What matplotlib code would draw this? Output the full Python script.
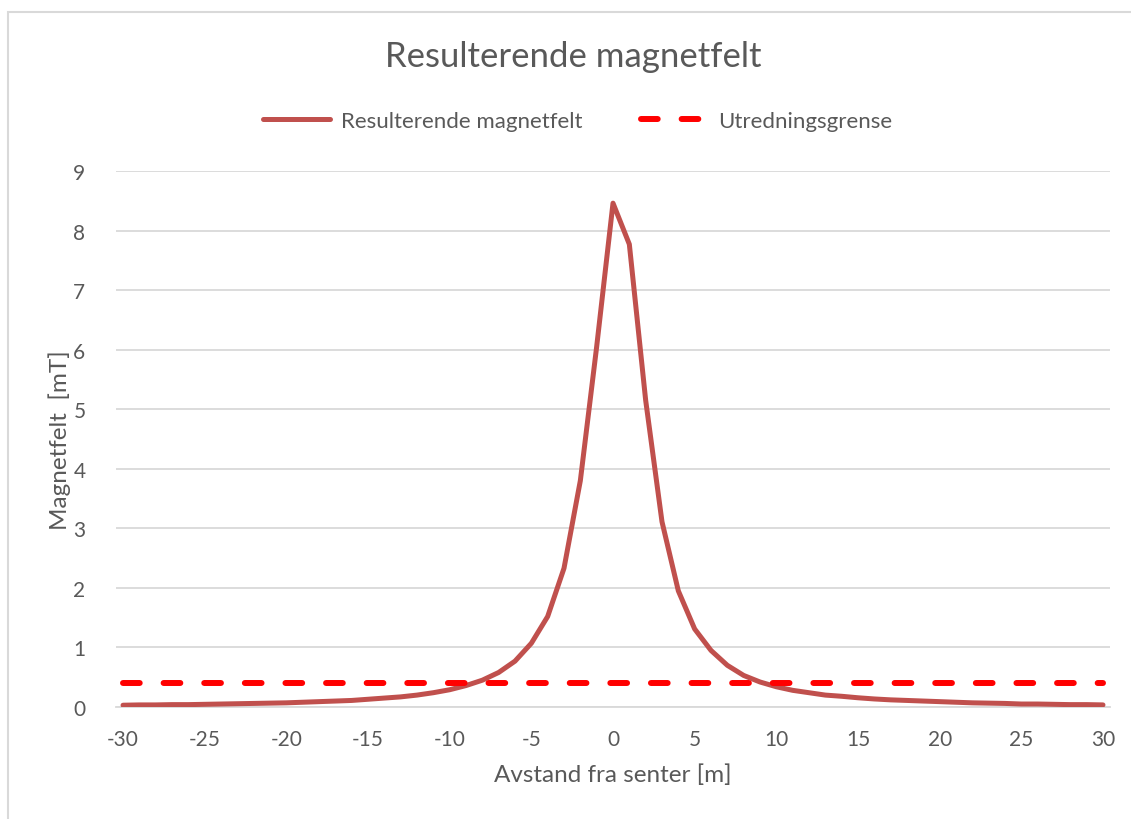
import matplotlib.pyplot as plt
from matplotlib.patches import Rectangle

# distance from centre [m] and resulting field [mT]
avstand = list(range(-30, 31))
felt = [0.03, 0.035, 0.035, 0.04, 0.04, 0.045, 0.05, 0.055, 0.06, 0.065,
        0.07, 0.08, 0.09, 0.10, 0.11, 0.13, 0.15, 0.17, 0.20, 0.24,
        0.29, 0.36, 0.45, 0.58, 0.77, 1.07, 1.52, 2.33, 3.80, 6.05,
        8.46,
        7.77, 5.15, 3.11, 1.95, 1.31, 0.95, 0.70, 0.53, 0.42, 0.34,
        0.28, 0.24, 0.20, 0.18, 0.155, 0.135, 0.12, 0.11, 0.10, 0.09,
        0.08, 0.07, 0.065, 0.06, 0.05, 0.05, 0.045, 0.04, 0.04, 0.035]
grense = [0.4] * len(avstand)

x_ticks = list(range(-30, 31, 5))
y_ticks = list(range(0, 10))

plt.rcParams['font.family'] = ['Lato', 'DejaVu Sans']
plt.rcParams['axes.unicode_minus'] = False
txt = '#595959'
grid = '#D9D9D9'

fig = plt.figure(figsize=(11.31, 8.2), dpi=100)
fig.patches.append(Rectangle((8 / 1131, -0.1), 1.2, 1 - 13 / 820 + 0.1,
                             transform=fig.transFigure, fill=False,
                             edgecolor=grid, linewidth=1.5))

ax = fig.add_axes([116 / 1131, 1 - 708 / 820, 994 / 1131, 536 / 820])

ax.plot(avstand, felt, color='#C0504D', linewidth=3.6,
        solid_capstyle='round', solid_joinstyle='round',
        label='Resulterende magnetfelt', zorder=3)
ax.plot(avstand, grense, color='#FF0000', linewidth=4.3,
        dashes=(2.8, 4.0), dash_capstyle='round',
        label='Utredningsgrense', zorder=4)

ax.set_xlim(-30.43, 30.43)
ax.set_ylim(0, 9)
ax.set_xticks(x_ticks)
ax.set_yticks(y_ticks)
ax.tick_params(length=0, labelsize=15, labelcolor=txt)
ax.tick_params(axis='x', pad=16)
ax.tick_params(axis='y', pad=22)
ax.grid(axis='y', color=grid, linewidth=1.3)
ax.set_axisbelow(True)
for s in ['top', 'right', 'left']:
    ax.spines[s].set_visible(False)
ax.spines['bottom'].set_color(grid)
ax.spines['bottom'].set_linewidth(1.3)

ax.set_xlabel('Avstand fra senter [m]', fontsize=17.5, color=txt, labelpad=10)
ax.set_ylabel('Magnetfelt  [mT]', fontsize=17.5, color=txt, labelpad=2)

fig.text(0.507, 1 - 57 / 820, 'Resulterende magnetfelt', ha='center',
         va='center', fontsize=25, color=txt)

leg = fig.legend(loc='center', bbox_to_anchor=(0.511, 1 - 122 / 820), ncol=2,
                 frameon=False, fontsize=16, handlelength=3.0,
                 handletextpad=0.5, columnspacing=2.6)
for t in leg.get_texts():
    t.set_color(txt)

plt.savefig('out.png', dpi=100)
